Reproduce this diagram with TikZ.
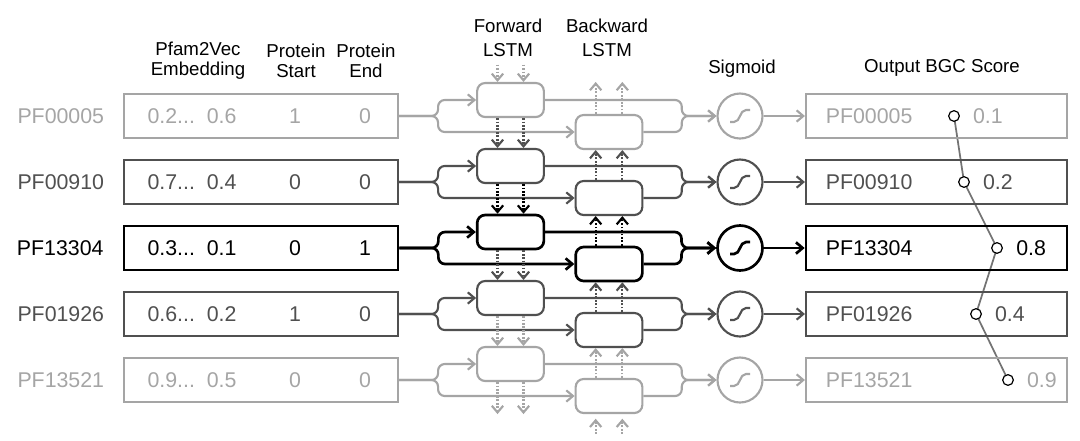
\documentclass[tikz,border=0pt]{standalone}
\usepackage{fontspec}
\setmainfont{Liberation Sans}
\usepackage{tikz}
\usetikzlibrary{arrows.meta, positioning, backgrounds}
\usepackage{xcolor}
\definecolor{cLight}{RGB}{165,165,165}
\definecolor{cDim}{RGB}{80,80,80}
\definecolor{cInk}{RGB}{0,0,0}
\definecolor{cTrace}{RGB}{115,115,115}
\tikzset{
  rowfaint/.style={color=cLight, line width=1.6pt},
  rowdim/.style={color=cDim, line width=1.6pt},
  rowfocus/.style={color=cInk, line width=2pt},
  labelfont/.style={font=\fontsize{16}{19}\selectfont},
  headnode/.style={align=center, text=black, font=\fontsize{14}{15}\selectfont},
  inbox/.style={rectangle, draw, minimum width=205.5pt, minimum height=33pt},
  outbox/.style={rectangle, draw, minimum width=195.75pt, minimum height=33pt},
  lstmnode/.style={rectangle, rounded corners=6pt, draw, fill=white,
                   minimum width=50pt, minimum height=25.5pt},
  signode/.style={circle, draw, fill=white, minimum size=33.75pt, inner sep=0pt,
                  path picture={\draw ([shift={(-7.5pt,-4.5pt)}]path picture bounding box.center)
                      -- ++(3pt,0) to[out=0,in=180] ++(9pt,9pt) -- ++(3pt,0);}},
  scorenode/.style={circle, draw=black, fill=white, line width=0.9pt,
                    minimum size=8pt, inner sep=0pt},
  valnode/.style={inner sep=0pt},
  arrow/.style={-{Straight Barb[length=5pt, width=8.5pt]}},
  branch/.style={rounded corners=5pt},
  dotarrow/.style={arrow, line width=1.6pt, dash pattern=on 1.3pt off 1.3pt},
  traceline/.style={draw=cTrace, line width=1.3pt}
}

\begin{document}
\begin{tikzpicture}[x=0.75pt, y=-0.75pt, labelfont]
  \useasboundingbox (0,0) rectangle (1080,440);

  % ── Column headers ──
  \node[headnode] (hEmb) at (198,61) {Pfam2Vec\\Embedding};
  \node[headnode] (hStart) at (296,61) {Protein\\Start};
  \node[headnode] (hEnd) at (366,61) {Protein\\End};
  \node[headnode, font=\fontsize{14}{18}\selectfont] (hFwd) at (508,38) {Forward\\LSTM};
  \node[headnode, font=\fontsize{14}{18}\selectfont] (hBwd) at (607,38) {Backward\\LSTM};
  \node[headnode] (hSig) at (742,69) {Sigmoid};
  \node[headnode] (hOut) at (942,68) {Output BGC Score};

  % ── Row 1: PF00005 ──
  \node[rowfaint, inbox] (in1) at (261,116) {};
  \node[rowfaint, left=10pt of in1] (lbl1) {PF00005};
  \node[rowfaint] (emb1) at (192,116) {0.2...\ \ 0.6};
  \node[rowfaint] (st1) at (295,116) {1};
  \node[rowfaint] (en1) at (365,116) {0};
  \node[rowfaint, lstmnode] (fw1) at (510.5,100) {};
  \node[rowfaint, lstmnode] (bw1) at (609,132) {};
  \node[rowfaint, signode] (sig1) at (740,116) {};
  \node[rowfaint, outbox] (out1) at (936.5,116) {};
  \node[rowfaint, right=11.5pt of out1.west] (id1) {PF00005};

  \draw[rowfaint, branch, arrow] (in1.east) -- ++(39,0) |- (fw1.west);
  \draw[rowfaint, branch, arrow] (in1.east) -- ++(39,0) |- (bw1.west);
  \draw[rowfaint, branch, arrow] (fw1.east) -| ([xshift=-26pt]sig1.west) -- (sig1.west);
  \draw[rowfaint, branch, arrow] (bw1.east) -| ([xshift=-26pt]sig1.west) -- (sig1.west);
  \draw[rowfaint, arrow] (sig1.east) -- (out1.west);
  \path[rowfaint, dotarrow]
    ([xshift=-9.75pt, yshift=13pt]fw1.north) edge ([xshift=-9.75pt]fw1.north)
    ([xshift=9.75pt, yshift=13pt]fw1.north) edge ([xshift=9.75pt]fw1.north)
    ([xshift=-10pt]bw1.north) edge ([xshift=-10pt, yshift=24pt]bw1.north)
    ([xshift=10pt]bw1.north) edge ([xshift=10pt, yshift=24pt]bw1.north);

  % ── Row 2: PF00910 ──
  \node[rowdim, inbox] (in2) at (261,182) {};
  \node[rowdim, left=10pt of in2] (lbl2) {PF00910};
  \node[rowdim] (emb2) at (192,182) {0.7...\ \ 0.4};
  \node[rowdim] (st2) at (295,182) {0};
  \node[rowdim] (en2) at (365,182) {0};
  \node[rowdim, lstmnode] (fw2) at (510.5,166) {};
  \node[rowdim, lstmnode] (bw2) at (609,198) {};
  \node[rowdim, signode] (sig2) at (740,182) {};
  \node[rowdim, outbox] (out2) at (936.5,182) {};
  \node[rowdim, right=11.5pt of out2.west] (id2) {PF00910};

  \draw[rowdim, branch, arrow] (in2.east) -- ++(39,0) |- (fw2.west);
  \draw[rowdim, branch, arrow] (in2.east) -- ++(39,0) |- (bw2.west);
  \draw[rowdim, branch, arrow] (fw2.east) -| ([xshift=-26pt]sig2.west) -- (sig2.west);
  \draw[rowdim, branch, arrow] (bw2.east) -| ([xshift=-26pt]sig2.west) -- (sig2.west);
  \draw[rowdim, arrow] (sig2.east) -- (out2.west);
  \path[rowdim, dotarrow]
    ([xshift=-9.75pt]fw1.south) edge ([xshift=-9.75pt]fw2.north)
    ([xshift=9.75pt]fw1.south) edge ([xshift=9.75pt]fw2.north)
    ([xshift=-10pt]bw2.north) edge ([xshift=-10pt]bw1.south)
    ([xshift=10pt]bw2.north) edge ([xshift=10pt]bw1.south);

  % ── Row 3: PF13304 ──
  \node[rowfocus, inbox] (in3) at (261,248) {};
  \node[rowfocus, left=10pt of in3] (lbl3) {PF13304};
  \node[rowfocus] (emb3) at (192,248) {0.3...\ \ 0.1};
  \node[rowfocus] (st3) at (295,248) {0};
  \node[rowfocus] (en3) at (365,248) {1};
  \node[rowfocus, lstmnode] (fw3) at (510.5,232) {};
  \node[rowfocus, lstmnode] (bw3) at (609,264) {};
  \node[rowfocus, signode] (sig3) at (740,248) {};
  \node[rowfocus, outbox] (out3) at (936.5,248) {};
  \node[rowfocus, right=11.5pt of out3.west] (id3) {PF13304};

  \draw[rowfocus, branch, arrow] (in3.east) -- ++(39,0) |- (fw3.west);
  \draw[rowfocus, branch, arrow] (in3.east) -- ++(39,0) |- (bw3.west);
  \draw[rowfocus, branch, arrow] (fw3.east) -| ([xshift=-26pt]sig3.west) -- (sig3.west);
  \draw[rowfocus, branch, arrow] (bw3.east) -| ([xshift=-26pt]sig3.west) -- (sig3.west);
  \draw[rowfocus, arrow] (sig3.east) -- (out3.west);
  \path[rowfocus, dotarrow]
    ([xshift=-9.75pt]fw2.south) edge ([xshift=-9.75pt]fw3.north)
    ([xshift=9.75pt]fw2.south) edge ([xshift=9.75pt]fw3.north)
    ([xshift=-10pt]bw3.north) edge ([xshift=-10pt]bw2.south)
    ([xshift=10pt]bw3.north) edge ([xshift=10pt]bw2.south);

  % ── Row 4: PF01926 ──
  \node[rowdim, inbox] (in4) at (261,314) {};
  \node[rowdim, left=10pt of in4] (lbl4) {PF01926};
  \node[rowdim] (emb4) at (192,314) {0.6...\ \ 0.2};
  \node[rowdim] (st4) at (295,314) {1};
  \node[rowdim] (en4) at (365,314) {0};
  \node[rowdim, lstmnode] (fw4) at (510.5,298) {};
  \node[rowdim, lstmnode] (bw4) at (609,330) {};
  \node[rowdim, signode] (sig4) at (740,314) {};
  \node[rowdim, outbox] (out4) at (936.5,314) {};
  \node[rowdim, right=11.5pt of out4.west] (id4) {PF01926};

  \draw[rowdim, branch, arrow] (in4.east) -- ++(39,0) |- (fw4.west);
  \draw[rowdim, branch, arrow] (in4.east) -- ++(39,0) |- (bw4.west);
  \draw[rowdim, branch, arrow] (fw4.east) -| ([xshift=-26pt]sig4.west) -- (sig4.west);
  \draw[rowdim, branch, arrow] (bw4.east) -| ([xshift=-26pt]sig4.west) -- (sig4.west);
  \draw[rowdim, arrow] (sig4.east) -- (out4.west);
  \path[rowdim, dotarrow]
    ([xshift=-9.75pt]fw3.south) edge ([xshift=-9.75pt]fw4.north)
    ([xshift=9.75pt]fw3.south) edge ([xshift=9.75pt]fw4.north)
    ([xshift=-10pt]bw4.north) edge ([xshift=-10pt]bw3.south)
    ([xshift=10pt]bw4.north) edge ([xshift=10pt]bw3.south);

  % ── Row 5: PF13521 ──
  \node[rowfaint, inbox] (in5) at (261,380) {};
  \node[rowfaint, left=10pt of in5] (lbl5) {PF13521};
  \node[rowfaint] (emb5) at (192,380) {0.9...\ \ 0.5};
  \node[rowfaint] (st5) at (295,380) {0};
  \node[rowfaint] (en5) at (365,380) {0};
  \node[rowfaint, lstmnode] (fw5) at (510.5,364) {};
  \node[rowfaint, lstmnode] (bw5) at (609,396) {};
  \node[rowfaint, signode] (sig5) at (740,380) {};
  \node[rowfaint, outbox] (out5) at (936.5,380) {};
  \node[rowfaint, right=11.5pt of out5.west] (id5) {PF13521};

  \draw[rowfaint, branch, arrow] (in5.east) -- ++(39,0) |- (fw5.west);
  \draw[rowfaint, branch, arrow] (in5.east) -- ++(39,0) |- (bw5.west);
  \draw[rowfaint, branch, arrow] (fw5.east) -| ([xshift=-26pt]sig5.west) -- (sig5.west);
  \draw[rowfaint, branch, arrow] (bw5.east) -| ([xshift=-26pt]sig5.west) -- (sig5.west);
  \draw[rowfaint, arrow] (sig5.east) -- (out5.west);
  \path[rowfaint, dotarrow]
    ([xshift=-9.75pt]fw4.south) edge ([xshift=-9.75pt]fw5.north)
    ([xshift=9.75pt]fw4.south) edge ([xshift=9.75pt]fw5.north)
    ([xshift=-10pt]bw5.north) edge ([xshift=-10pt]bw4.south)
    ([xshift=10pt]bw5.north) edge ([xshift=10pt]bw4.south)
    ([xshift=-9.75pt]fw5.south) edge ([xshift=-9.75pt, yshift=-24pt]fw5.south)
    ([xshift=9.75pt]fw5.south) edge ([xshift=9.75pt, yshift=-24pt]fw5.south)
    ([xshift=-10pt, yshift=-15pt]bw5.south) edge ([xshift=-10pt, yshift=-3.5pt]bw5.south)
    ([xshift=10pt, yshift=-15pt]bw5.south) edge ([xshift=10pt, yshift=-3.5pt]bw5.south);

  % ── Scores ──
  \node[scorenode] (sc1) at (954,116) {};
  \node[scorenode] (sc2) at (964,182) {};
  \node[scorenode] (sc3) at (997,248) {};
  \node[scorenode] (sc4) at (976,314) {};
  \node[scorenode] (sc5) at (1008,380) {};
  \node[rowfaint, valnode, right=9pt of sc1] (val1) {0.1};
  \node[rowdim, valnode, right=9pt of sc2] (val2) {0.2};
  \node[rowfocus, valnode, right=9pt of sc3] (val3) {0.8};
  \node[rowdim, valnode, right=9pt of sc4] (val4) {0.4};
  \node[rowfaint, valnode, right=9pt of sc5] (val5) {0.9};

  \begin{pgfonlayer}{background}
    \draw[traceline] (sc1.center) -- (sc2.center) -- (sc3.center)
      -- (sc4.center) -- (sc5.center);
  \end{pgfonlayer}

\end{tikzpicture}
\end{document}
